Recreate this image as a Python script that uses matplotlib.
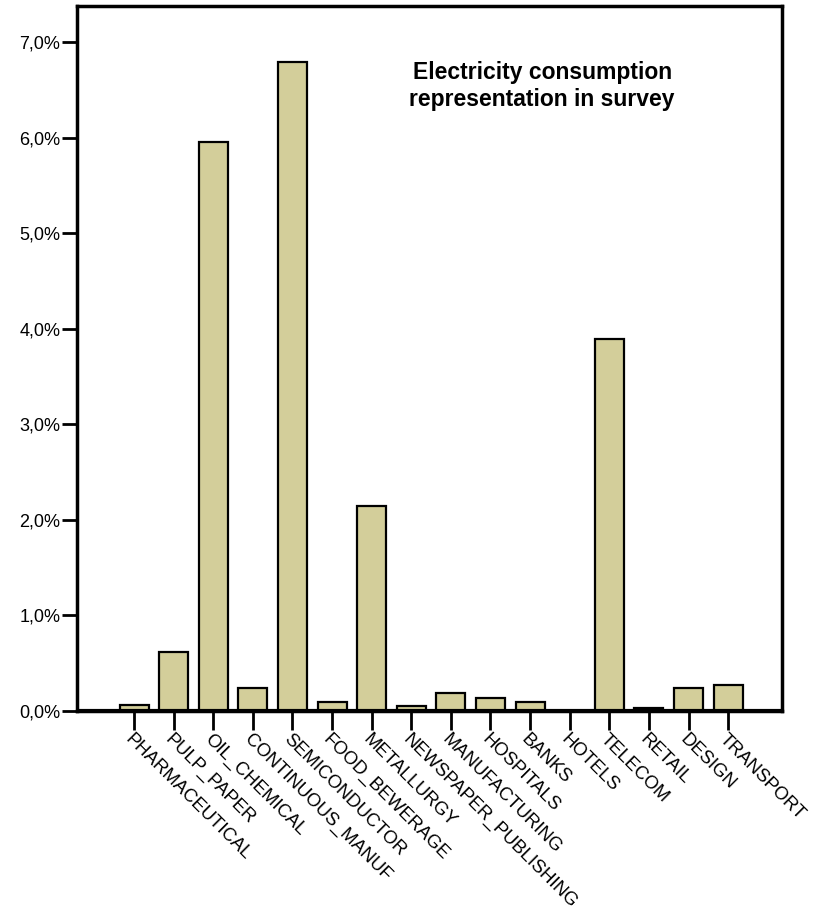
import matplotlib.pyplot as plt
import numpy as np

# Data (percent of survey)
sectors = ['PHARMACEUTICAL', 'PULP_PAPER', 'OIL_CHEMICAL', 'CONTINUOUS_MANUF',
           'SEMICONDUCTOR', 'FOOD_BEWERAGE', 'METALLURGY', 'NEWSPAPER_PUBLISHING',
           'MANUFACTURING', 'HOSPITALS', 'BANKS', 'HOTELS', 'TELECOM', 'RETAIL',
           'DESIGN', 'TRANSPORT']
share = [0.06, 0.62, 5.95, 0.24, 6.79, 0.09, 2.15, 0.055,
         0.19, 0.14, 0.09, 0.0, 3.89, 0.035, 0.245, 0.275]
yticks = [0, 1, 2, 3, 4, 5, 6, 7]
ytick_labels = ['0,0%', '1,0%', '2,0%', '3,0%', '4,0%', '5,0%', '6,0%', '7,0%']

plt.rcParams['font.family'] = ['Liberation Sans', 'DejaVu Sans']

fig = plt.figure(figsize=(8.29, 9.14), dpi=100)
ax = fig.add_axes([0.0929, 0.2221, 0.8504, 0.7713])

x = np.arange(len(sectors))
ax.bar(x, share, width=0.73, color='#d3ce9a', edgecolor='black', linewidth=1.6, zorder=2)
ax.axhline(0, color='black', linewidth=3, zorder=3)

ax.set_xlim(-1.44, len(sectors) - 1 + 1.36)
ax.set_ylim(0, 7.377)

ax.set_yticks(yticks)
ax.set_yticklabels(ytick_labels, fontsize=13)
ax.set_xticks(x)
ax.set_xticklabels(sectors, fontsize=13.3, rotation=-45, ha='left', va='top',
                   rotation_mode='anchor')

ax.tick_params(axis='y', length=11, width=2, pad=1)
ax.tick_params(axis='x', length=14, width=2, pad=0)
for s in ax.spines.values():
    s.set_linewidth(2.5)

fig.text(0.654, 0.906, 'Electricity consumption\nrepresentation in survey',
         ha='center', va='center', fontsize=16.5, fontweight='bold', linespacing=1.25)

fig.savefig('out.png', dpi=100)
